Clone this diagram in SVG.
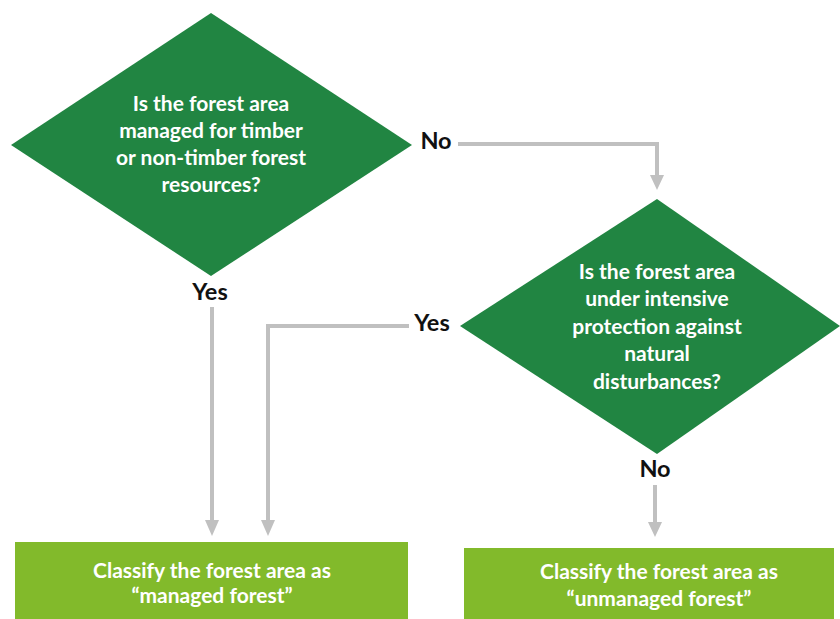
<svg xmlns="http://www.w3.org/2000/svg" width="840" height="619" viewBox="0 0 840 619">
<style>
.dia{fill:#218542}
.box{fill:#82BA2B}
.t{font-family:Lato,"Liberation Sans",sans-serif;font-weight:bold;font-size:21px;fill:#fff;text-anchor:middle}
.lbl{font-family:Lato,"Liberation Sans",sans-serif;font-weight:bold;font-size:23.5px;fill:#111;text-anchor:middle}
.c{fill:none;stroke:#C0C0C0;stroke-width:4}
.ah{fill:#C0C0C0}
</style>
<rect width="840" height="619" fill="#fff"/>
<g id="q1">
<polygon class="dia" points="211,13 412,145 211,276 11,145"/>
<text class="t" x="211" y="111">Is the forest area</text>
<text class="t" x="211" y="138">managed for timber</text>
<text class="t" x="211" y="165">or non-timber forest</text>
<text class="t" x="211" y="192">resources?</text>
</g>
<g id="q2">
<polygon class="dia" points="657,199 840,326 657,454 460,326"/>
<text class="t" x="657" y="279">Is the forest area</text>
<text class="t" x="657" y="306">under intensive</text>
<text class="t" x="657" y="334">protection against</text>
<text class="t" x="657" y="361">natural</text>
<text class="t" x="657" y="389">disturbances?</text>
</g>
<g id="managed">
<rect class="box" x="15" y="542" width="393" height="77"/>
<text class="t" x="212" y="578">Classify the forest area as</text>
<text class="t" x="212" y="603">“managed forest”</text>
</g>
<g id="unmanaged">
<rect class="box" x="464" y="548" width="370" height="71"/>
<text class="t" x="659" y="579">Classify the forest area as</text>
<text class="t" x="659" y="606">“unmanaged forest”</text>
</g>
<g id="connectors">
<path class="c" d="M458,144 H657 V176"/>
<polygon class="ah" points="650,175 664,175 657,190"/>
<path class="c" d="M212,307 V521"/>
<polygon class="ah" points="205,520 219,520 212,536"/>
<path class="c" d="M409,326 H268 V521"/>
<polygon class="ah" points="261,520 275,520 268,536"/>
<path class="c" d="M655,485 V523"/>
<polygon class="ah" points="648,522 662,522 655,537"/>
<text class="lbl" x="210" y="300">Yes</text>
<text class="lbl" x="436" y="149">No</text>
<text class="lbl" x="432" y="331">Yes</text>
<text class="lbl" x="655" y="477">No</text>
</g>
</svg>
